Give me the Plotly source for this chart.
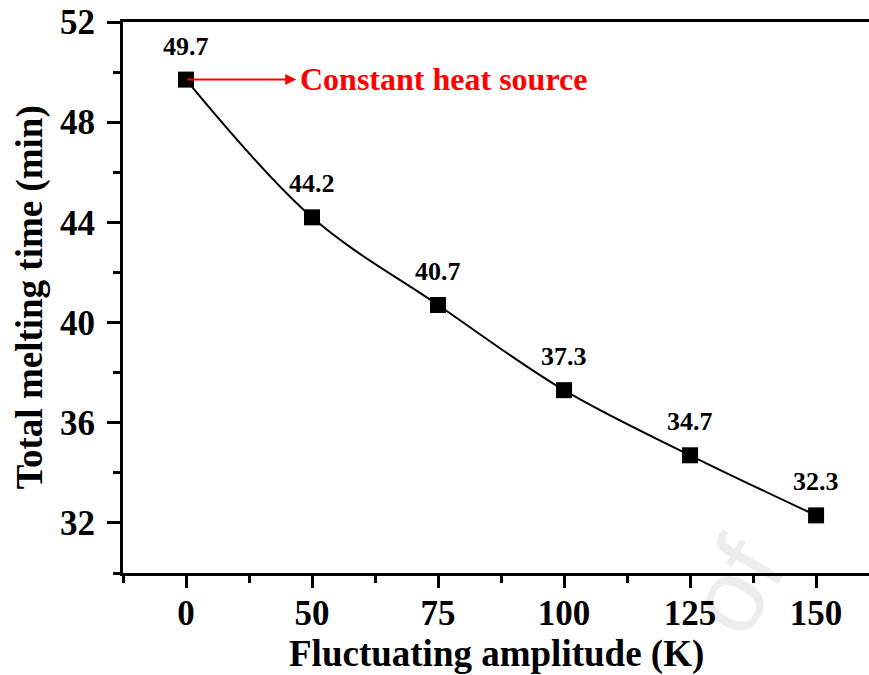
import plotly.graph_objects as go

# ---- data ----
amplitude_labels = ["0", "50", "75", "100", "125", "150"]
melting_time = [49.7, 44.2, 40.7, 37.3, 34.7, 32.3]
point_labels = ["49.7", "44.2", "40.7", "37.3", "34.7", "32.3"]
y_major_ticks = [32, 36, 40, 44, 48, 52]

x_pos = list(range(len(amplitude_labels)))
minor_x = [i - 0.5 for i in range(len(amplitude_labels) + 1)]

FONT = "Liberation Serif"

fig = go.Figure()
fig.add_trace(go.Scatter(
    x=x_pos, y=melting_time, mode="lines",
    line=dict(color="black", width=2, shape="spline", smoothing=1.0),
    hoverinfo="skip", showlegend=False,
))
fig.add_trace(go.Scatter(
    x=x_pos, y=melting_time, mode="markers",
    marker=dict(symbol="square", size=16, color="black"),
    showlegend=False,
))

annotations = []
for xi, yi, lab in zip(x_pos, melting_time, point_labels):
    annotations.append(dict(
        x=xi, y=yi, text=f"<b>{lab}</b>", showarrow=False,
        xanchor="center", yanchor="bottom", yshift=17,
        font=dict(family=FONT, size=26, color="black"),
    ))

# arrow + "Constant heat source"
annotations.append(dict(
    x=x_pos[0] + 0.875, y=melting_time[0], ax=x_pos[0], ay=melting_time[0],
    xref="x", yref="y", axref="x", ayref="y",
    showarrow=True, arrowhead=2, arrowsize=1.1, arrowwidth=2, arrowcolor="#ff0000",
    text="",
))
annotations.append(dict(
    x=x_pos[0] + 0.89, y=melting_time[0], text="<b>Constant heat source</b>",
    showarrow=False, xanchor="left", yanchor="middle", yshift=1,
    font=dict(family=FONT, size=32, color="#ff0000"),
))
# faint watermark fragment
annotations.append(dict(
    xref="paper", yref="paper", x=0.82, y=-0.025, xanchor="center", yanchor="middle",
    text="of", showarrow=False,
    textangle=-60, font=dict(family="Liberation Sans", size=105, color="rgba(0,0,0,0.07)"),
))
# axis titles
annotations.append(dict(
    xref="paper", yref="paper", x=0.5, y=-0.147, yanchor="middle",
    text="<b>Fluctuating amplitude (K)</b>", showarrow=False,
    font=dict(family=FONT, size=37, color="black"),
))
annotations.append(dict(
    xref="paper", yref="paper", x=-0.125, y=0.5, xanchor="center", yanchor="middle",
    text="<b>Total melting time (min)</b>", showarrow=False, textangle=-90,
    font=dict(family=FONT, size=37, color="black"),
))

fig.update_layout(
    width=869, height=675,
    margin=dict(l=123, r=0, t=22, b=102),
    paper_bgcolor="white", plot_bgcolor="white",
    annotations=annotations,
    showlegend=False,
)
fig.update_xaxes(
    range=[-0.5, 5.42],
    tickmode="array", tickvals=x_pos, ticktext=[f"<b>{t}</b>" for t in amplitude_labels],
    tickfont=dict(family=FONT, size=35, color="black"),
    ticks="outside", ticklen=12, tickwidth=3, tickcolor="black",
    ticklabelstandoff=-5,
    minor=dict(tickmode="array", tickvals=minor_x, ticks="outside", ticklen=7,
               tickwidth=3, tickcolor="black"),
    showline=True, linewidth=3, linecolor="black", mirror=True,
    showgrid=False, zeroline=False,
)
fig.update_yaxes(
    range=[30, 52],
    tickmode="array", tickvals=y_major_ticks, ticktext=[f"<b>{t}</b>" for t in y_major_ticks],
    tickfont=dict(family=FONT, size=35, color="black"),
    ticks="outside", ticklen=13, tickwidth=3, tickcolor="black",
    ticklabelstandoff=5,
    minor=dict(tickmode="linear", tick0=30, dtick=2, ticks="outside", ticklen=7,
               tickwidth=3, tickcolor="black"),
    showline=True, linewidth=3, linecolor="black", mirror=False,
    showgrid=False, zeroline=False,
)

fig.write_html("out.html")
